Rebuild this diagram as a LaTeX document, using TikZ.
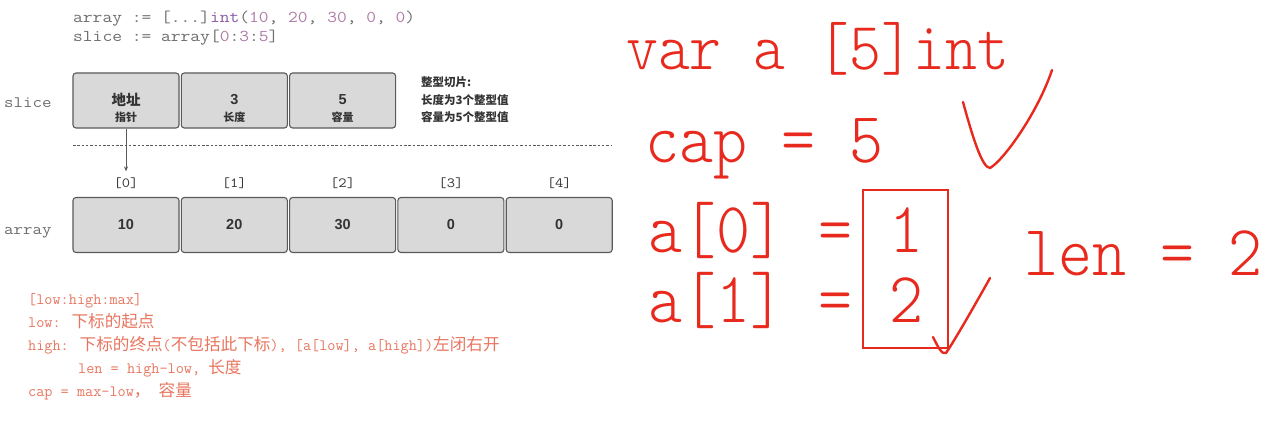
\documentclass[tikz,border=0pt]{standalone}
\usepackage{fontspec}
\setmainfont{Liberation Sans}
\newfontfamily\codef[FakeStretch=1.15]{Latin Modern Mono}
\newfontfamily\notef{Latin Modern Mono}
\newfontfamily\cjkf{Noto Sans CJK SC}
\newfontfamily\bigf[FakeStretch=0.9]{Latin Modern Mono Light}
\usetikzlibrary{arrows.meta}
\definecolor{codegray}{HTML}{6E6E6E}
\definecolor{codepurple}{HTML}{8E5BA6}
\definecolor{codenum}{HTML}{B07AA8}
\definecolor{boxfill}{HTML}{D9D9D9}
\definecolor{boxline}{HTML}{5A5A5A}
\definecolor{boxtext}{HTML}{333333}
\definecolor{notered}{HTML}{E8765F}
\definecolor{inkred}{HTML}{E82A1E}
\newcommand\NoteL[1]{{\notef\fontsize{15.8}{18}\selectfont #1}}
\newcommand\NoteC[1]{{\cjkf\fontsize{16.6}{18}\selectfont #1}}
\newcommand\Pn[1]{\textcolor{codenum}{#1}}
\newcommand\Up[1]{\raisebox{2.5pt}{#1}}
\begin{document}
\begin{tikzpicture}[x=1pt,y=-1pt,
  cell/.style={draw=boxline, fill=boxfill, line width=1.1pt, rounded corners=3pt,
    minimum width=106pt, minimum height=55pt, inner sep=0pt, text=boxtext},
  celltxt/.style={font=\normalfont\bfseries\fontsize{14.5}{17}\selectfont},
  cjkmain/.style={font=\cjkf\bfseries\fontsize{14.5}{16}\selectfont},
  cjksub/.style={inner sep=0pt, text=boxtext, font=\cjkf\bfseries\fontsize{11}{13}\selectfont},
  code/.style={anchor=base west, inner sep=0pt, text=codegray, font=\codef\fontsize{16.5}{18}\selectfont},
  lbl/.style={anchor=base west, inner sep=0pt, text=codegray, font=\codef\fontsize{16}{18}\selectfont},
  idx/.style={inner sep=0pt, text=boxtext, font=\codef\fontsize{14}{15}\selectfont},
  note/.style={anchor=base west, inner sep=0pt, text=notered},
  big/.style={anchor=base west, inner sep=0pt, text=inkred, font=\bigf\fontsize{72}{80}\selectfont},
  ink/.style={draw=inkred, line width=2.4pt, line cap=round, line join=round}]
\useasboundingbox (0,0) rectangle (1284,425);
\fill[white] (0,0) rectangle (1284,425);

% code
\node[code] (code1) at (73,23) {array := [...]\textcolor{codepurple}{int}(\Pn{10}, \Pn{20}, \Pn{30}, \Pn{0}, \Pn{0})};
\node[code] (code2) at (73,42) {slice := array[\Pn{0}:\Pn{3}:\Pn{5}]};

% slice
\node[lbl] (slicelbl) at (4,107) {slice};
\node[cell, cjkmain] (s0) at (126,100.5) {\Up{地址}};
\node[cell, celltxt] (s1) at (234.3,100.5) {\Up{3}};
\node[cell, celltxt] (s2) at (342.6,100.5) {\Up{5}};
\node[cjksub] (s0sub) at (126,117) {指针};
\node[cjksub] (s1sub) at (234.3,117) {长度};
\node[cjksub] (s2sub) at (342.6,117) {容量};
\node[anchor=west, inner sep=0pt, align=left, text=boxtext,
  font=\cjkf\bfseries\fontsize{11.5}{17.5}\selectfont] (note) at (421,100)
  {整型切片:\\长度为3个整型值\\容量为5个整型值};

\draw[boxline, dash pattern=on 2.5pt off 1.8pt, line width=0.8pt] (73,145) -- (612,145);

% array
\node[lbl] (arraylbl) at (4,234) {array};
\foreach \i/\v in {0/10,1/20,2/30,3/0,4/0}{
  \node[cell, celltxt] (c\i) at ({126+108.3*\i},225) {\v};
  \node[idx] (i\i) at ({126+108.3*\i},183) {[\i]};
}
\draw[boxline, line width=0.8pt, -{Stealth[length=5pt,width=4pt]}, shorten >=6pt] (s0.south) -- (i0.north);

% notes
\node[note] (n1) at (28,304) {\NoteL{[low:high:max]}};
\node[note] (n2) at (28,327) {\NoteL{low: }\NoteC{下标的起点}};
\node[note] (n3) at (28,350) {\NoteL{high: }\NoteC{下标的终点}\NoteL{(}\NoteC{不包括此下标}\NoteL{), [a[low], a[high])}\NoteC{左闭右开}};
\node[note] (n4) at (78,373) {\NoteL{len = high-low, }\NoteC{长度}};
\node[note] (n5) at (28,396) {\NoteL{cap = max-low}\NoteC{，}\NoteL{ }\NoteC{容量}};

% handwriting
\node[big, font=\bigf\fontsize{67.5}{72}\selectfont] (va) at (626,70) {var a [5]int};
\node[big] (cap) at (645,162) {cap = 5};
\node[big] (e0) at (648,252) {a[0] =};
\node[big] (e1) at (648,322) {a[1] =};
\node[draw=inkred, line width=2pt, minimum width=85pt, minimum height=158pt, inner sep=0pt] (vbox) at (905.5,269) {};
\node[big, anchor=base] (d0) at (906,252) {1};
\node[big, anchor=base] (d1) at (906,322) {2};
\node[big] (len) at (1024,275) {len = 2};
\draw[ink] (963,102) .. controls (972,135) and (982,168) .. (990,168) .. controls (1004,160) and (1038,112) .. (1052,70);
\draw[ink] (933,337) .. controls (938,347) and (942,355) .. (946,353) .. controls (955,340) and (980,296) .. (990,278);
\end{tikzpicture}
\end{document}
